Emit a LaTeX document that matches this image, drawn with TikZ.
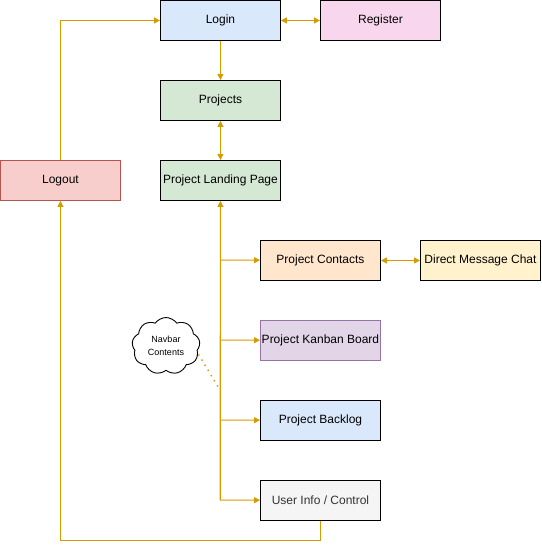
\documentclass[tikz,border=0pt]{standalone}
\usepackage{fontspec}
\setmainfont{Liberation Sans}
\usetikzlibrary{arrows.meta,shapes.symbols}
\definecolor{edgeorange}{HTML}{D79B00}
\definecolor{blueFill}{HTML}{DAE8FC}
\definecolor{pinkFill}{HTML}{F8D7EE}
\definecolor{greenFill}{HTML}{D5E8D4}
\definecolor{redFill}{HTML}{F8CECC}
\definecolor{redLine}{HTML}{B85450}
\definecolor{orangeFill}{HTML}{FFE6CC}
\definecolor{yellowFill}{HTML}{FFF2CC}
\definecolor{purpleFill}{HTML}{E1D5E7}
\definecolor{purpleLine}{HTML}{9673A6}
\definecolor{greyFill}{HTML}{F5F5F5}
\definecolor{greyText}{HTML}{333333}
\begin{document}
\begin{tikzpicture}[x=1pt,y=-1pt,
  box/.style={draw=black,line width=0.9pt,minimum width=120pt,minimum height=40pt,
    inner sep=1pt,anchor=north west,font=\fontsize{12}{14}\selectfont},
  link/.style={draw=edgeorange,line width=1pt,-{Triangle[width=6pt,length=6pt]}},
  both/.style={link,{Triangle[width=6pt,length=6pt]}-{Triangle[width=6pt,length=6pt]}},
  plain/.style={draw=edgeorange,line width=1pt}]
\useasboundingbox (0,0) rectangle (541,549);
\fill[white] (0,0) rectangle (541,549);

% screens
\node[box,fill=blueFill] (login) at (160,0) {Login};
\node[box,fill=pinkFill] (register) at (320,0) {Register};
\node[box,fill=greenFill] (projects) at (160,80) {Projects};
\node[box,fill=greenFill] (landing) at (160,160) {Project Landing Page};
\node[box,fill=redFill,draw=redLine] (logout) at (0,160) {Logout};
\node[box,fill=orangeFill] (contacts) at (260,240) {Project Contacts};
\node[box,fill=yellowFill] (chat) at (420,240) {Direct Message Chat};
\node[box,fill=purpleFill,draw=purpleLine] (kanban) at (260,320) {Project Kanban Board};
\node[box,fill=blueFill] (backlog) at (260,400) {Project Backlog};
\node[box,fill=greyFill,text=greyText] (userinfo) at (260,480) {User Info / Control};

% navbar note
\node[cloud,draw=black,line width=0.9pt,fill=white,cloud puffs=9,cloud puff arc=110,
  minimum width=68pt,minimum height=45pt,inner sep=0pt,align=center,
  font=\fontsize{9}{12.5}\selectfont] (navbar) at (166,346) {Navbar\\Contents};

% trunk coordinates
\coordinate (tContacts) at (220,260);
\coordinate (tKanban) at (220,340);
\coordinate (tNote) at (220,390);
\coordinate (tBacklog) at (220,420);
\coordinate (tUser) at (220,500);

% connectors
\draw[link] (login) -- (projects);
\draw[both] (login) -- (register);
\draw[both] (projects) -- (landing);
\draw[both] (contacts) -- (chat);
\draw[link] (tUser) -- (landing.south);
\draw[plain] (tContacts) -- (tUser);
\draw[link] (tContacts) -- (contacts);
\draw[link] (tKanban) -- (kanban);
\draw[link] (tBacklog) -- (backlog);
\draw[link] (tUser) -- (userinfo);
\draw[link] (logout.north) |- (login.west);
\draw[link] (userinfo.south) -- ++(0,20) -| (logout.south);
\draw[draw=edgeorange,line width=2pt,line cap=round,dash pattern=on 0pt off 6pt]
  (navbar.east) ++(-1,9) -- (tNote);
\end{tikzpicture}
\end{document}
